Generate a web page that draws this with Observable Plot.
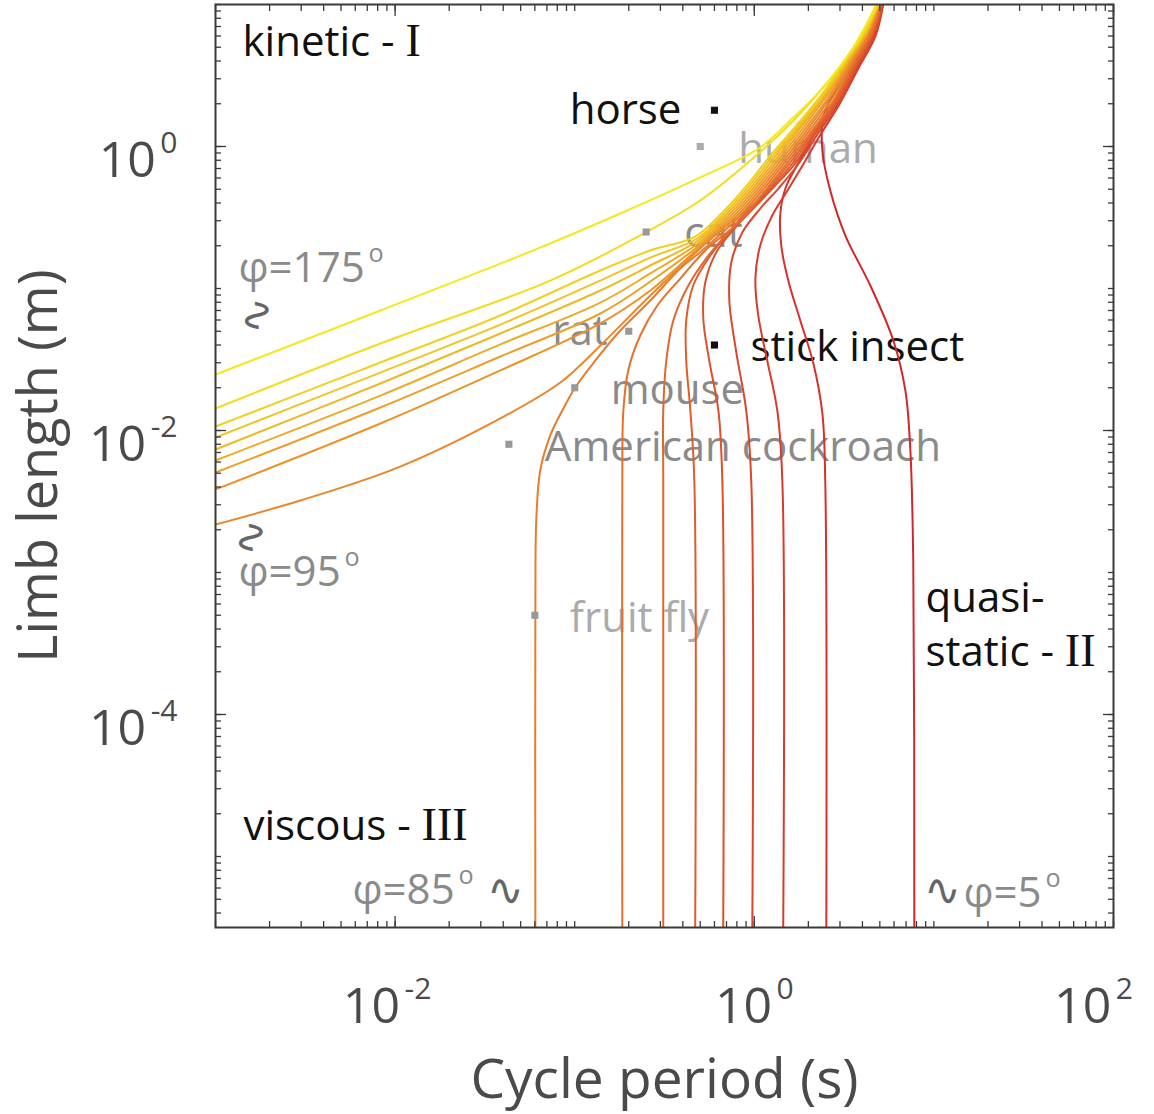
<!DOCTYPE html>
<html>
<head>
<meta charset="utf-8">
<script src="https://cdn.jsdelivr.net/npm/d3@7"></script>
<script src="https://cdn.jsdelivr.net/npm/@observablehq/plot@0.6"></script>
<style>
  html, body { margin: 0; padding: 0; background: #fff; }
  #chart { width: 1154px; height: 1114px; }
</style>
</head>
<body>
<div id="chart"></div>
<script>
// ---------------- DATA ----------------
// Phase angle of each curve (degrees)
const phiValues = [5, 15, 25, 35, 45, 55, 65, 75, 85, 95, 105, 115, 125, 135, 145, 155, 165, 175];

// Each curve: [log10 cycle period (s), log10 limb length (m)]
const curve175 = [[-3.0,-1.606],[-2.082,-1.155],[-1.231,-0.732],[-0.746,-0.472],[-0.301,-0.218],[0.033,-0.007],[0.217,0.204],[0.367,0.394],[0.551,0.697],[0.679,1.0]];
const curve165 = [[-3.0,-1.845],[-2.082,-1.387],[-1.136,-0.944],[-0.607,-0.606],[-0.301,-0.380],[-0.022,-0.099],[0.256,0.232],[0.535,0.662],[0.685,1.0]];
const curve155 = [[-3.0,-1.972],[-2.082,-1.521],[-1.414,-1.190],[-0.857,-0.873],[-0.579,-0.732],[-0.329,-0.634],[-0.178,-0.465],[-0.033,-0.261],[0.100,-0.049],[0.239,0.155],[0.379,0.373],[0.512,0.613],[0.624,0.824],[0.685,1.0]];
const curve145 = [[-3.0,-2.049],[-2.082,-1.592],[-1.414,-1.254],[-0.857,-0.944],[-0.579,-0.782],[-0.317,-0.648],[-0.167,-0.472],[-0.022,-0.268],[0.111,-0.056],[0.251,0.155],[0.384,0.366],[0.518,0.613],[0.624,0.824],[0.685,1.0]];
const curve135 = [[-3.0,-2.134],[-2.082,-1.669],[-1.414,-1.317],[-0.857,-1.014],[-0.579,-0.838],[-0.312,-0.662],[-0.156,-0.479],[-0.011,-0.275],[0.122,-0.063],[0.256,0.148],[0.390,0.359],[0.523,0.606],[0.629,0.817],[0.690,1.0]];
const curve125 = [[-3.0,-2.211],[-2.082,-1.754],[-1.414,-1.394],[-0.857,-1.099],[-0.579,-0.894],[-0.306,-0.676],[-0.145,-0.486],[0.0,-0.282],[0.134,-0.070],[0.267,0.148],[0.395,0.359],[0.523,0.606],[0.629,0.817],[0.690,1.0]];
const curve115 = [[-3.0,-2.296],[-2.082,-1.838],[-1.414,-1.479],[-0.857,-1.176],[-0.579,-0.951],[-0.301,-0.690],[-0.134,-0.493],[0.011,-0.289],[0.145,-0.077],[0.278,0.141],[0.401,0.352],[0.529,0.599],[0.635,0.817],[0.690,1.0]];
const curve105 = [[-3.0,-2.415],[-2.082,-1.951],[-1.414,-1.577],[-0.857,-1.246],[-0.579,-1.014],[-0.301,-0.704],[-0.122,-0.500],[0.022,-0.296],[0.156,-0.085],[0.290,0.134],[0.412,0.345],[0.535,0.599],[0.635,0.810],[0.696,1.0]];
const curve95  = [[-3.0,-2.662],[-2.528,-2.493],[-1.971,-2.254],[-1.414,-1.915],[-1.080,-1.662],[-0.857,-1.401],[-0.579,-1.049],[-0.301,-0.718],[-0.111,-0.507],[0.033,-0.303],[0.167,-0.092],[0.301,0.127],[0.423,0.345],[0.540,0.592],[0.640,0.810],[0.696,1.0]];
const curve85  = [[-1.219,-5.5],[-1.219,-3.197],[-1.214,-2.634],[-1.192,-2.282],[-1.136,-2.035],[-1.069,-1.859],[-0.997,-1.697],[-0.885,-1.507],[-0.746,-1.296],[-0.579,-1.085],[-0.412,-0.859],[-0.290,-0.732],[-0.100,-0.514],[0.045,-0.310],[0.178,-0.099],[0.312,0.120],[0.434,0.338],[0.546,0.592],[0.646,0.810],[0.702,1.0]];
const curve75  = [[-0.735,-5.5],[-0.735,-2.352],[-0.729,-1.859],[-0.702,-1.577],[-0.635,-1.331],[-0.540,-1.120],[-0.412,-0.930],[-0.273,-0.732],[-0.089,-0.535],[0.056,-0.317],[0.189,-0.106],[0.323,0.113],[0.445,0.331],[0.551,0.585],[0.651,0.803],[0.702,1.0]];
const curve65  = [[-0.507,-5.5],[-0.507,-2.352],[-0.507,-1.859],[-0.490,-1.507],[-0.451,-1.225],[-0.367,-0.979],[-0.256,-0.768],[-0.134,-0.592],[-0.050,-0.465],[0.067,-0.310],[0.200,-0.113],[0.329,0.106],[0.451,0.324],[0.557,0.577],[0.657,0.803],[0.707,1.0]];
const curve55  = [[-0.329,-5.5],[-0.334,-2.352],[-0.356,-1.859],[-0.379,-1.507],[-0.379,-1.225],[-0.340,-0.979],[-0.245,-0.768],[-0.122,-0.577],[-0.011,-0.430],[0.089,-0.296],[0.212,-0.120],[0.334,0.099],[0.457,0.317],[0.562,0.570],[0.657,0.796],[0.707,1.0]];
const curve45  = [[-0.173,-5.5],[-0.178,-2.352],[-0.200,-1.859],[-0.251,-1.507],[-0.284,-1.211],[-0.273,-0.958],[-0.212,-0.746],[-0.100,-0.563],[0.011,-0.415],[0.111,-0.282],[0.223,-0.127],[0.340,0.092],[0.462,0.310],[0.568,0.563],[0.663,0.789],[0.713,1.0]];
const curve35  = [[-0.011,-5.5],[-0.017,-2.352],[-0.045,-1.859],[-0.100,-1.451],[-0.139,-1.085],[-0.128,-0.817],[-0.067,-0.606],[0.033,-0.437],[0.134,-0.296],[0.239,-0.134],[0.351,0.085],[0.468,0.303],[0.573,0.556],[0.668,0.782],[0.713,1.0]];
const curve25  = [[0.161,-5.5],[0.156,-2.352],[0.128,-1.859],[0.072,-1.507],[0.022,-1.190],[0.006,-0.930],[0.033,-0.697],[0.100,-0.486],[0.178,-0.324],[0.262,-0.148],[0.362,0.070],[0.473,0.296],[0.579,0.549],[0.674,0.775],[0.718,1.0]];
const curve15  = [[0.401,-5.5],[0.395,-2.352],[0.379,-1.880],[0.329,-1.528],[0.256,-1.225],[0.189,-0.944],[0.150,-0.697],[0.145,-0.472],[0.173,-0.296],[0.234,-0.141],[0.323,0.056],[0.418,0.254],[0.507,0.465],[0.601,0.690],[0.679,0.873],[0.718,1.0]];
const curve5   = [[0.891,-5.5],[0.885,-2.915],[0.869,-2.141],[0.841,-1.718],[0.774,-1.366],[0.646,-0.979],[0.507,-0.627],[0.423,-0.310],[0.379,-0.028],[0.384,0.204],[0.451,0.394],[0.579,0.676],[0.702,1.0]];

const curveByPhi = {5: curve5, 15: curve15, 25: curve25, 35: curve35, 45: curve45, 55: curve55, 65: curve65, 75: curve75, 85: curve85,
  95: curve95, 105: curve105, 115: curve115, 125: curve125, 135: curve135, 145: curve145, 155: curve155, 165: curve165, 175: curve175};

// Animals: cycle period (s) and limb length (m)
const animalNames  = ["horse", "human", "cat", "rat", "stick insect", "mouse", "American cockroach", "fruit fly"];
const animalPeriod = [0.6, 0.5, 0.25, 0.2, 0.6, 0.1, 0.043, 0.06];
const animalLength = [1.8, 1.0, 0.25, 0.05, 0.04, 0.02, 0.008, 0.0005];

// Tick labels (powers of ten)
const xTickExponents = [-2, 0, 2];
const yTickExponents = [-4, -2, 0];

// ---------------- STYLE ----------------
const FONT = "'Open Sans', 'Noto Sans', sans-serif";
const AXIS_COLOR = "#3a3a3a";
const LABEL_COLOR = "#4a4a4a";
const GRAY = "#8a8a8a";
const LIGHT = "#ababab";

const ramp = d3.piecewise(d3.interpolateRgb, ["#d3262b", "#e9812d", "#f5e81b"]);
const colorOf = p => ramp((p - 5) / 170);

const animalStyle = {
  "horse":              {dot: "#111", text: "#111", anchor: "end",   dx: -33, dy: 0},
  "human":              {dot: LIGHT,  text: LIGHT,  anchor: "start", dx: 38,  dy: 3},
  "cat":                {dot: "#999", text: GRAY,   anchor: "start", dx: 38,  dy: 2},
  "rat":                {dot: "#999", text: GRAY,   anchor: "end",   dx: -21, dy: 0},
  "stick insect":       {dot: "#111", text: "#111", anchor: "start", dx: 36,  dy: 3},
  "mouse":              {dot: "#999", text: GRAY,   anchor: "start", dx: 36,  dy: 3},
  "American cockroach": {dot: "#999", text: GRAY,   anchor: "start", dx: 36,  dy: 3},
  "fruit fly":          {dot: "#999", text: LIGHT,  anchor: "start", dx: 35,  dy: 3}
};

const animals = animalNames.map((name, i) => ({name, T: animalPeriod[i], L: animalLength[i]}));

const xMinor = d3.range(-3, 2).flatMap(e => d3.range(1, 10).map(k => k * 10 ** e)).concat([100]);
const yMinor = d3.range(-6, 1).flatMap(e => d3.range(1, 10).map(k => k * 10 ** e)).concat([10])
  .filter(v => v >= 10 ** -5.5 * 0.999 && v <= 10.001);
const xMajor = xTickExponents.map(e => 10 ** e);
const yMajor = yTickExponents.map(e => 10 ** e);
const pow = v => `10^{${Math.round(Math.log10(v))}}`;

const note = (text, o) => Plot.text([text], {text: d => d, fontSize: 42, fill: "#111", textAnchor: "start", lineAnchor: "middle", ...o});
const wave = (o) => note("∿", {fill: "#666", textAnchor: "middle", fontSize: 44, fontFamily: "'DejaVu Sans', sans-serif", ...o});

const marks = [];

// annotation texts first (lines are drawn over them)
for (const a of animals) {
  const s = animalStyle[a.name];
  marks.push(Plot.text([a], {x: "T", y: "L", text: "name", dx: s.dx, dy: s.dy, textAnchor: s.anchor, fill: s.text, fontSize: 42}));
}
marks.push(
  note("kinetic - [I]", {frameAnchor: "top-left", dx: 27, dy: 38}),
  note("viscous - [III]", {frameAnchor: "bottom-left", dx: 28, dy: -101}),
  note("quasi-", {frameAnchor: "top-right", dx: -188, dy: 594}),
  note("static - [II]", {frameAnchor: "top-right", dx: -188, dy: 648}),
  note("φ=175^{o}", {frameAnchor: "top-left", dx: 23, dy: 264, fill: GRAY}),
  wave({frameAnchor: "top-left", dx: 42, dy: 311, rotate: 90}),
  note("φ=95^{o}", {frameAnchor: "top-left", dx: 23, dy: 568, fill: GRAY}),
  wave({frameAnchor: "top-left", dx: 36, dy: 533, rotate: 90}),
  note("φ=85^{o}", {frameAnchor: "bottom-left", dx: 137, dy: -37, fill: GRAY}),
  wave({frameAnchor: "bottom-left", dx: 290, dy: -37}),
  wave({frameAnchor: "bottom-left", dx: 727, dy: -37}),
  note("φ=5^{o}", {frameAnchor: "bottom-left", dx: 748, dy: -34, fill: GRAY})
);

// curves
for (const p of phiValues) {
  marks.push(Plot.line(curveByPhi[p], {
    x: d => 10 ** d[0], y: d => 10 ** d[1],
    stroke: colorOf(p), strokeWidth: 2, curve: "catmull-rom", clip: true
  }));
}

// animal squares
for (const a of animals) {
  marks.push(Plot.dot([a], {x: "T", y: "L", symbol: "square", r: 4, fill: animalStyle[a.name].dot}));
}

// frame and inward ticks on all four sides
const tickOpts = {stroke: AXIS_COLOR, strokeWidth: 1.3, tickFormat: () => "", label: null};
const tickLabelOpts = {tickSize: 0, tickFormat: pow, fontSize: 50, fill: LABEL_COLOR, label: null};
marks.push(
  Plot.frame({stroke: AXIS_COLOR, strokeWidth: 2}),
  Plot.axisX(xMinor, {anchor: "bottom", tickSize: -6, ...tickOpts}),
  Plot.axisX(xMajor, {anchor: "bottom", tickSize: -11, ...tickOpts}),
  Plot.axisX(xMinor, {anchor: "top", tickSize: -6, ...tickOpts}),
  Plot.axisX(xMajor, {anchor: "top", tickSize: -11, ...tickOpts}),
  Plot.axisY(yMinor, {anchor: "left", tickSize: -6, ...tickOpts}),
  Plot.axisY(yMajor, {anchor: "left", tickSize: -11, ...tickOpts}),
  Plot.axisY(yMinor, {anchor: "right", tickSize: -6, ...tickOpts}),
  Plot.axisY(yMajor, {anchor: "right", tickSize: -11, ...tickOpts}),
  // tick labels
  Plot.axisX(xMajor.slice(0, 1), {anchor: "bottom", tickPadding: 60, dx: -8, ...tickLabelOpts}),
  Plot.axisX(xMajor.slice(1, 2), {anchor: "bottom", tickPadding: 60, ...tickLabelOpts}),
  Plot.axisX(xMajor.slice(2), {anchor: "bottom", tickPadding: 60, dx: -20, ...tickLabelOpts}),
  Plot.axisY(yMajor, {anchor: "left", tickPadding: 38, dy: 14, ...tickLabelOpts}),
  // axis titles
  Plot.text(["Cycle period (s)"], {text: d => d, frameAnchor: "bottom", lineAnchor: "middle", textAnchor: "middle", dy: 153, fontSize: 55, fill: LABEL_COLOR}),
  Plot.text(["Limb length (m)"], {text: d => d, frameAnchor: "left", lineAnchor: "middle", textAnchor: "middle", dx: -176, dy: 0, rotate: -90, fontSize: 54, fill: LABEL_COLOR})
);

const chart = Plot.plot({
  width: 1154, height: 1114,
  marginLeft: 215, marginRight: 41, marginTop: 4, marginBottom: 187,
  style: {fontFamily: FONT, background: "#fff", overflow: "visible"},
  x: {type: "log", domain: [1e-3, 1e2]},
  y: {type: "log", domain: [10 ** -5.5, 10]},
  marks
});

// rich text: ^{..} superscript, [..] serif roman numerals
const SVGNS = "http://www.w3.org/2000/svg";
for (const t of chart.querySelectorAll("text")) {
  const s = t.textContent;
  if (!/\^\{|\[/.test(s)) continue;
  t.textContent = "";
  const re = /\^\{([^}]*)\}|\[([^\]]*)\]|([^\^\[]+)/g;
  let m;
  while ((m = re.exec(s))) {
    const ts = document.createElementNS(SVGNS, "tspan");
    if (m[1] !== undefined) {
      ts.setAttribute("dx", "0.15em");
      ts.setAttribute("dy", "-0.8em");
      ts.setAttribute("font-size", "0.6em");
      ts.textContent = m[1];
    } else if (m[2] !== undefined) {
      ts.setAttribute("font-family", "'Liberation Serif', 'DejaVu Serif', serif");
      ts.setAttribute("font-size", "1.1em");
      ts.textContent = m[2];
    } else {
      ts.textContent = m[3];
    }
    t.appendChild(ts);
  }
}

document.getElementById("chart").appendChild(chart);
</script>
</body>
</html>
